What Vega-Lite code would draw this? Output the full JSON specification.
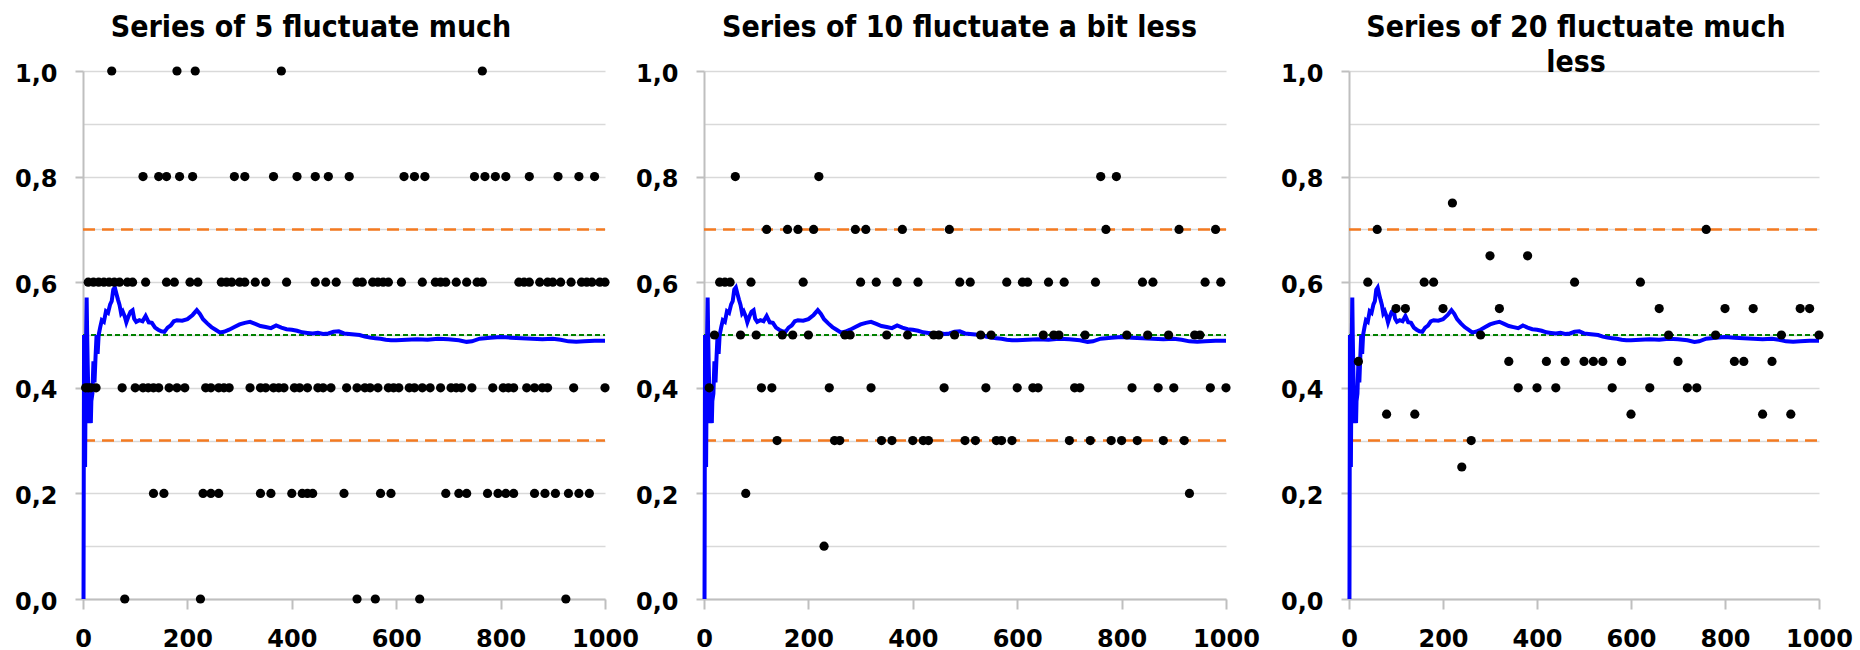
{
  "$schema": "https://vega.github.io/schema/vega-lite/v6.json",
  "padding": {"left": 14, "top": 13, "right": 5, "bottom": 0},
  "bounds": "flush",
  "spacing": 99,
  "config": {
    "view": {"stroke": null},
    "font": "DejaVu Sans",
    "axis": {"labelFont": "DejaVu Sans", "labelFontSize": 24, "labelFontWeight": "bold", "labelColor": "#000000", "gridColor": "#d9d9d9", "gridWidth": 1.5, "domainColor": "#bfbfbf", "domainWidth": 2, "tickColor": "#bfbfbf", "tickWidth": 2, "labelFlush": false, "labelOverlap": false},
    "axisX": {"tickSize": 10, "labelPadding": 18, "format": "d"},
    "axisY": {"tickSize": 8, "labelPadding": 18, "labelOffset": 3}
  },
  "datasets": {
    "mean": [
      {"x":1,"y":0},{"x":2,"y":0.5},{"x":3,"y":0.333},{"x":4,"y":0.25},{"x":5,"y":0.4},{"x":6,"y":0.5},{"x":7,"y":0.571},{"x":8,"y":0.5},{"x":9,"y":0.444},{"x":10,"y":0.4},{"x":11,"y":0.364},{"x":12,"y":0.333},{"x":13,"y":0.385},{"x":14,"y":0.357},{"x":15,"y":0.333},{"x":16,"y":0.375},{"x":18,"y":0.389},{"x":20,"y":0.45},{"x":22,"y":0.41},{"x":24,"y":0.458},{"x":26,"y":0.5},{"x":28,"y":0.464},{"x":30,"y":0.5},{"x":33,"y":0.515},{"x":36,"y":0.528},{"x":40,"y":0.525},{"x":44,"y":0.545},{"x":48,"y":0.542},{"x":52,"y":0.558},{"x":55,"y":0.564},{"x":58,"y":0.586},{"x":61,"y":0.59},{"x":64,"y":0.578},{"x":67,"y":0.567},{"x":70,"y":0.557},{"x":73,"y":0.541},{"x":76,"y":0.545},{"x":80,"y":0.535},{"x":83,"y":0.524},{"x":87,"y":0.535},{"x":91,"y":0.544},{"x":95,"y":0.547},{"x":98,"y":0.531},{"x":102,"y":0.525},{"x":108,"y":0.528},{"x":114,"y":0.526},{"x":120,"y":0.536},{"x":126,"y":0.524},{"x":132,"y":0.523},{"x":138,"y":0.514},{"x":144,"y":0.51},{"x":150,"y":0.507},{"x":156,"y":0.506},{"x":162,"y":0.514},{"x":168,"y":0.518},{"x":174,"y":0.526},{"x":180,"y":0.528},{"x":190,"y":0.527},{"x":200,"y":0.53},{"x":210,"y":0.538},{"x":218,"y":0.547},{"x":224,"y":0.54},{"x":230,"y":0.53},{"x":238,"y":0.522},{"x":246,"y":0.515},{"x":254,"y":0.51},{"x":262,"y":0.505},{"x":270,"y":0.506},{"x":280,"y":0.51},{"x":290,"y":0.515},{"x":300,"y":0.52},{"x":310,"y":0.523},{"x":320,"y":0.525},{"x":330,"y":0.521},{"x":340,"y":0.517},{"x":350,"y":0.515},{"x":360,"y":0.513},{"x":370,"y":0.518},{"x":380,"y":0.514},{"x":390,"y":0.511},{"x":400,"y":0.51},{"x":410,"y":0.508},{"x":420,"y":0.505},{"x":430,"y":0.504},{"x":440,"y":0.503},{"x":450,"y":0.504},{"x":460,"y":0.502},{"x":470,"y":0.503},{"x":480,"y":0.506},{"x":490,"y":0.507},{"x":500,"y":0.503},{"x":510,"y":0.502},{"x":520,"y":0.501},{"x":530,"y":0.5},{"x":540,"y":0.497},{"x":550,"y":0.495},{"x":560,"y":0.494},{"x":570,"y":0.493},{"x":580,"y":0.491},{"x":590,"y":0.49},{"x":600,"y":0.49},{"x":620,"y":0.491},{"x":640,"y":0.492},{"x":660,"y":0.491},{"x":680,"y":0.493},{"x":700,"y":0.492},{"x":720,"y":0.49},{"x":735,"y":0.487},{"x":745,"y":0.488},{"x":760,"y":0.493},{"x":780,"y":0.495},{"x":800,"y":0.496},{"x":820,"y":0.495},{"x":840,"y":0.494},{"x":860,"y":0.493},{"x":880,"y":0.492},{"x":900,"y":0.493},{"x":915,"y":0.491},{"x":930,"y":0.488},{"x":945,"y":0.487},{"x":960,"y":0.488},{"x":980,"y":0.489},{"x":1000,"y":0.489}
    ],
    "s5": [
      {"x":55,"y":1},{"x":180,"y":1},{"x":215,"y":1},{"x":380,"y":1},{"x":765,"y":1},
      {"x":115,"y":0.8},{"x":145,"y":0.8},{"x":160,"y":0.8},{"x":185,"y":0.8},{"x":210,"y":0.8},{"x":290,"y":0.8},{"x":310,"y":0.8},{"x":365,"y":0.8},{"x":410,"y":0.8},{"x":445,"y":0.8},{"x":470,"y":0.8},{"x":510,"y":0.8},{"x":615,"y":0.8},{"x":635,"y":0.8},{"x":655,"y":0.8},{"x":750,"y":0.8},{"x":770,"y":0.8},{"x":790,"y":0.8},{"x":810,"y":0.8},{"x":855,"y":0.8},{"x":910,"y":0.8},{"x":950,"y":0.8},{"x":980,"y":0.8},
      {"x":10,"y":0.6},{"x":20,"y":0.6},{"x":30,"y":0.6},{"x":40,"y":0.6},{"x":50,"y":0.6},{"x":60,"y":0.6},{"x":70,"y":0.6},{"x":85,"y":0.6},{"x":95,"y":0.6},{"x":120,"y":0.6},{"x":160,"y":0.6},{"x":175,"y":0.6},{"x":205,"y":0.6},{"x":220,"y":0.6},{"x":265,"y":0.6},{"x":275,"y":0.6},{"x":285,"y":0.6},{"x":300,"y":0.6},{"x":310,"y":0.6},{"x":330,"y":0.6},{"x":350,"y":0.6},{"x":390,"y":0.6},{"x":445,"y":0.6},{"x":465,"y":0.6},{"x":485,"y":0.6},{"x":525,"y":0.6},{"x":535,"y":0.6},{"x":555,"y":0.6},{"x":565,"y":0.6},{"x":575,"y":0.6},{"x":585,"y":0.6},{"x":610,"y":0.6},{"x":650,"y":0.6},{"x":675,"y":0.6},{"x":685,"y":0.6},{"x":695,"y":0.6},{"x":715,"y":0.6},{"x":735,"y":0.6},{"x":755,"y":0.6},{"x":765,"y":0.6},{"x":835,"y":0.6},{"x":845,"y":0.6},{"x":855,"y":0.6},{"x":875,"y":0.6},{"x":890,"y":0.6},{"x":900,"y":0.6},{"x":915,"y":0.6},{"x":935,"y":0.6},{"x":955,"y":0.6},{"x":965,"y":0.6},{"x":975,"y":0.6},{"x":990,"y":0.6},{"x":1000,"y":0.6},
      {"x":5,"y":0.4},{"x":10,"y":0.4},{"x":15,"y":0.4},{"x":25,"y":0.4},{"x":75,"y":0.4},{"x":100,"y":0.4},{"x":115,"y":0.4},{"x":125,"y":0.4},{"x":135,"y":0.4},{"x":145,"y":0.4},{"x":165,"y":0.4},{"x":180,"y":0.4},{"x":195,"y":0.4},{"x":235,"y":0.4},{"x":245,"y":0.4},{"x":260,"y":0.4},{"x":270,"y":0.4},{"x":280,"y":0.4},{"x":320,"y":0.4},{"x":340,"y":0.4},{"x":350,"y":0.4},{"x":365,"y":0.4},{"x":375,"y":0.4},{"x":385,"y":0.4},{"x":405,"y":0.4},{"x":415,"y":0.4},{"x":430,"y":0.4},{"x":450,"y":0.4},{"x":460,"y":0.4},{"x":475,"y":0.4},{"x":505,"y":0.4},{"x":525,"y":0.4},{"x":540,"y":0.4},{"x":550,"y":0.4},{"x":565,"y":0.4},{"x":585,"y":0.4},{"x":595,"y":0.4},{"x":605,"y":0.4},{"x":625,"y":0.4},{"x":635,"y":0.4},{"x":650,"y":0.4},{"x":665,"y":0.4},{"x":685,"y":0.4},{"x":705,"y":0.4},{"x":715,"y":0.4},{"x":725,"y":0.4},{"x":745,"y":0.4},{"x":785,"y":0.4},{"x":805,"y":0.4},{"x":815,"y":0.4},{"x":825,"y":0.4},{"x":850,"y":0.4},{"x":865,"y":0.4},{"x":880,"y":0.4},{"x":890,"y":0.4},{"x":940,"y":0.4},{"x":1000,"y":0.4},
      {"x":135,"y":0.2},{"x":155,"y":0.2},{"x":230,"y":0.2},{"x":245,"y":0.2},{"x":260,"y":0.2},{"x":340,"y":0.2},{"x":360,"y":0.2},{"x":400,"y":0.2},{"x":420,"y":0.2},{"x":430,"y":0.2},{"x":440,"y":0.2},{"x":500,"y":0.2},{"x":570,"y":0.2},{"x":590,"y":0.2},{"x":695,"y":0.2},{"x":720,"y":0.2},{"x":735,"y":0.2},{"x":775,"y":0.2},{"x":795,"y":0.2},{"x":810,"y":0.2},{"x":825,"y":0.2},{"x":865,"y":0.2},{"x":885,"y":0.2},{"x":905,"y":0.2},{"x":930,"y":0.2},{"x":950,"y":0.2},{"x":970,"y":0.2},
      {"x":80,"y":0},{"x":225,"y":0},{"x":525,"y":0},{"x":560,"y":0},{"x":645,"y":0},{"x":925,"y":0}
    ],
    "s10": [
      {"x":60,"y":0.8},{"x":220,"y":0.8},{"x":760,"y":0.8},{"x":790,"y":0.8},
      {"x":120,"y":0.7},{"x":160,"y":0.7},{"x":180,"y":0.7},{"x":210,"y":0.7},{"x":290,"y":0.7},{"x":310,"y":0.7},{"x":380,"y":0.7},{"x":470,"y":0.7},{"x":770,"y":0.7},{"x":910,"y":0.7},{"x":980,"y":0.7},
      {"x":30,"y":0.6},{"x":40,"y":0.6},{"x":50,"y":0.6},{"x":90,"y":0.6},{"x":190,"y":0.6},{"x":300,"y":0.6},{"x":330,"y":0.6},{"x":370,"y":0.6},{"x":410,"y":0.6},{"x":490,"y":0.6},{"x":510,"y":0.6},{"x":580,"y":0.6},{"x":610,"y":0.6},{"x":620,"y":0.6},{"x":660,"y":0.6},{"x":690,"y":0.6},{"x":750,"y":0.6},{"x":840,"y":0.6},{"x":860,"y":0.6},{"x":960,"y":0.6},{"x":990,"y":0.6},
      {"x":20,"y":0.5},{"x":70,"y":0.5},{"x":100,"y":0.5},{"x":150,"y":0.5},{"x":170,"y":0.5},{"x":200,"y":0.5},{"x":270,"y":0.5},{"x":280,"y":0.5},{"x":350,"y":0.5},{"x":390,"y":0.5},{"x":440,"y":0.5},{"x":450,"y":0.5},{"x":480,"y":0.5},{"x":530,"y":0.5},{"x":550,"y":0.5},{"x":650,"y":0.5},{"x":670,"y":0.5},{"x":680,"y":0.5},{"x":730,"y":0.5},{"x":810,"y":0.5},{"x":850,"y":0.5},{"x":890,"y":0.5},{"x":940,"y":0.5},{"x":950,"y":0.5},
      {"x":10,"y":0.4},{"x":110,"y":0.4},{"x":130,"y":0.4},{"x":240,"y":0.4},{"x":320,"y":0.4},{"x":460,"y":0.4},{"x":540,"y":0.4},{"x":600,"y":0.4},{"x":630,"y":0.4},{"x":640,"y":0.4},{"x":710,"y":0.4},{"x":720,"y":0.4},{"x":820,"y":0.4},{"x":870,"y":0.4},{"x":900,"y":0.4},{"x":970,"y":0.4},{"x":1000,"y":0.4},
      {"x":140,"y":0.3},{"x":250,"y":0.3},{"x":260,"y":0.3},{"x":340,"y":0.3},{"x":360,"y":0.3},{"x":400,"y":0.3},{"x":420,"y":0.3},{"x":430,"y":0.3},{"x":500,"y":0.3},{"x":520,"y":0.3},{"x":560,"y":0.3},{"x":570,"y":0.3},{"x":590,"y":0.3},{"x":700,"y":0.3},{"x":740,"y":0.3},{"x":780,"y":0.3},{"x":800,"y":0.3},{"x":830,"y":0.3},{"x":880,"y":0.3},{"x":920,"y":0.3},
      {"x":80,"y":0.2},{"x":930,"y":0.2},
      {"x":230,"y":0.1}
    ],
    "s20": [
      {"x":220,"y":0.75},
      {"x":60,"y":0.7},{"x":760,"y":0.7},
      {"x":300,"y":0.65},{"x":380,"y":0.65},
      {"x":40,"y":0.6},{"x":160,"y":0.6},{"x":180,"y":0.6},{"x":480,"y":0.6},{"x":620,"y":0.6},
      {"x":100,"y":0.55},{"x":120,"y":0.55},{"x":200,"y":0.55},{"x":320,"y":0.55},{"x":660,"y":0.55},{"x":800,"y":0.55},{"x":860,"y":0.55},{"x":960,"y":0.55},{"x":980,"y":0.55},
      {"x":280,"y":0.5},{"x":680,"y":0.5},{"x":780,"y":0.5},{"x":920,"y":0.5},{"x":1000,"y":0.5},
      {"x":20,"y":0.45},{"x":340,"y":0.45},{"x":420,"y":0.45},{"x":460,"y":0.45},{"x":500,"y":0.45},{"x":520,"y":0.45},{"x":540,"y":0.45},{"x":580,"y":0.45},{"x":700,"y":0.45},{"x":820,"y":0.45},{"x":840,"y":0.45},{"x":900,"y":0.45},
      {"x":360,"y":0.4},{"x":400,"y":0.4},{"x":440,"y":0.4},{"x":560,"y":0.4},{"x":640,"y":0.4},{"x":720,"y":0.4},{"x":740,"y":0.4},
      {"x":80,"y":0.35},{"x":140,"y":0.35},{"x":600,"y":0.35},{"x":880,"y":0.35},{"x":940,"y":0.35},
      {"x":260,"y":0.3},
      {"x":240,"y":0.25}
    ],
    "half": [{"y": 0.5}],
    "band": [{"y": 0.3}, {"y": 0.7}]
  },
  "hconcat": [
    {
      "width": 522,
      "height": 528,
      "title": {"text": "Series of 5 fluctuate much", "font": "DejaVu Sans Condensed, DejaVu Sans", "fontSize": 30, "fontWeight": "bold", "color": "#000000", "anchor": "middle", "frame": "group", "baseline": "top", "offset": 19, "dx": -33},
      "layer": [
        {"data": {"name": "half"}, "mark": {"type": "rule", "color": "#008000", "strokeWidth": 1.8, "strokeDash": [5, 3]}, "encoding": {"x": {"datum": 0, "type": "quantitative", "scale": {"domain": [0, 1000], "nice": false}, "axis": {"values": [0, 200, 400, 600, 800, 1000], "title": null}}, "x2": {"datum": 1000}, "y": {"field": "y", "type": "quantitative", "scale": {"domain": [0, 1], "nice": false}, "axis": {"values": [0, 0.1, 0.2, 0.3, 0.4, 0.5, 0.6, 0.7, 0.8, 0.9, 1], "title": null, "labelExpr": "round(datum.value*10) % 2 == 0 ? replace(format(datum.value, '.1f'), '.', ',') : ''", "tickOpacity": {"condition": {"test": "round(datum.value*10) % 2 == 1", "value": 0}, "value": 1}}}}},
        {"data": {"name": "band"}, "mark": {"type": "rule", "color": "#f47a20", "strokeWidth": 2.5, "strokeDash": [12, 7]}, "encoding": {"x": {"datum": 0, "type": "quantitative"}, "x2": {"datum": 1000}, "y": {"field": "y", "type": "quantitative"}}},
        {"data": {"name": "mean"}, "mark": {"type": "line", "color": "#0000ff", "strokeWidth": 4}, "encoding": {"x": {"field": "x", "type": "quantitative"}, "y": {"field": "y", "type": "quantitative"}}},
        {"data": {"name": "s5"}, "mark": {"type": "circle", "size": 85, "color": "#000000", "opacity": 1}, "encoding": {"x": {"field": "x", "type": "quantitative"}, "y": {"field": "y", "type": "quantitative"}}}
      ]
    },
    {
      "width": 546,
      "height": 528,
      "title": {"text": "Series of 10 fluctuate a bit less", "font": "DejaVu Sans Condensed, DejaVu Sans", "fontSize": 30, "fontWeight": "bold", "color": "#000000", "anchor": "start", "frame": "group", "baseline": "top", "offset": 19, "dx": 18},
      "layer": [
        {"data": {"name": "half"}, "mark": {"type": "rule", "color": "#008000", "strokeWidth": 1.8, "strokeDash": [5, 3]}, "encoding": {"x": {"datum": 0, "type": "quantitative", "scale": {"domain": [0, 1000], "nice": false, "range": [0, 522]}, "axis": {"values": [0, 200, 400, 600, 800, 1000], "title": null}}, "x2": {"datum": 1000}, "y": {"field": "y", "type": "quantitative", "scale": {"domain": [0, 1], "nice": false}, "axis": {"values": [0, 0.1, 0.2, 0.3, 0.4, 0.5, 0.6, 0.7, 0.8, 0.9, 1], "title": null, "labelExpr": "round(datum.value*10) % 2 == 0 ? replace(format(datum.value, '.1f'), '.', ',') : ''", "tickOpacity": {"condition": {"test": "round(datum.value*10) % 2 == 1", "value": 0}, "value": 1}}}}},
        {"data": {"name": "band"}, "mark": {"type": "rule", "color": "#f47a20", "strokeWidth": 2.5, "strokeDash": [12, 7]}, "encoding": {"x": {"datum": 0, "type": "quantitative"}, "x2": {"datum": 1000}, "y": {"field": "y", "type": "quantitative"}}},
        {"data": {"name": "mean"}, "mark": {"type": "line", "color": "#0000ff", "strokeWidth": 4}, "encoding": {"x": {"field": "x", "type": "quantitative"}, "y": {"field": "y", "type": "quantitative"}}},
        {"data": {"name": "s10"}, "mark": {"type": "circle", "size": 85, "color": "#000000", "opacity": 1}, "encoding": {"x": {"field": "x", "type": "quantitative"}, "y": {"field": "y", "type": "quantitative"}}}
      ]
    },
    {
      "width": 470,
      "height": 528,
      "title": {"text": ["Series of 20 fluctuate much", "less"], "lineHeight": 35, "font": "DejaVu Sans Condensed, DejaVu Sans", "fontSize": 30, "fontWeight": "bold", "color": "#000000", "anchor": "middle", "frame": "group", "baseline": "top", "offset": -16, "dx": -8},
      "layer": [
        {"data": {"name": "half"}, "mark": {"type": "rule", "color": "#008000", "strokeWidth": 1.8, "strokeDash": [5, 3]}, "encoding": {"x": {"datum": 0, "type": "quantitative", "scale": {"domain": [0, 1000], "nice": false}, "axis": {"values": [0, 200, 400, 600, 800, 1000], "title": null}}, "x2": {"datum": 1000}, "y": {"field": "y", "type": "quantitative", "scale": {"domain": [0, 1], "nice": false}, "axis": {"values": [0, 0.1, 0.2, 0.3, 0.4, 0.5, 0.6, 0.7, 0.8, 0.9, 1], "title": null, "labelExpr": "round(datum.value*10) % 2 == 0 ? replace(format(datum.value, '.1f'), '.', ',') : ''", "tickOpacity": {"condition": {"test": "round(datum.value*10) % 2 == 1", "value": 0}, "value": 1}}}}},
        {"data": {"name": "band"}, "mark": {"type": "rule", "color": "#f47a20", "strokeWidth": 2.5, "strokeDash": [12, 7]}, "encoding": {"x": {"datum": 0, "type": "quantitative"}, "x2": {"datum": 1000}, "y": {"field": "y", "type": "quantitative"}}},
        {"data": {"name": "mean"}, "mark": {"type": "line", "color": "#0000ff", "strokeWidth": 4}, "encoding": {"x": {"field": "x", "type": "quantitative"}, "y": {"field": "y", "type": "quantitative"}}},
        {"data": {"name": "s20"}, "mark": {"type": "circle", "size": 85, "color": "#000000", "opacity": 1}, "encoding": {"x": {"field": "x", "type": "quantitative"}, "y": {"field": "y", "type": "quantitative"}}}
      ]
    }
  ]
}
